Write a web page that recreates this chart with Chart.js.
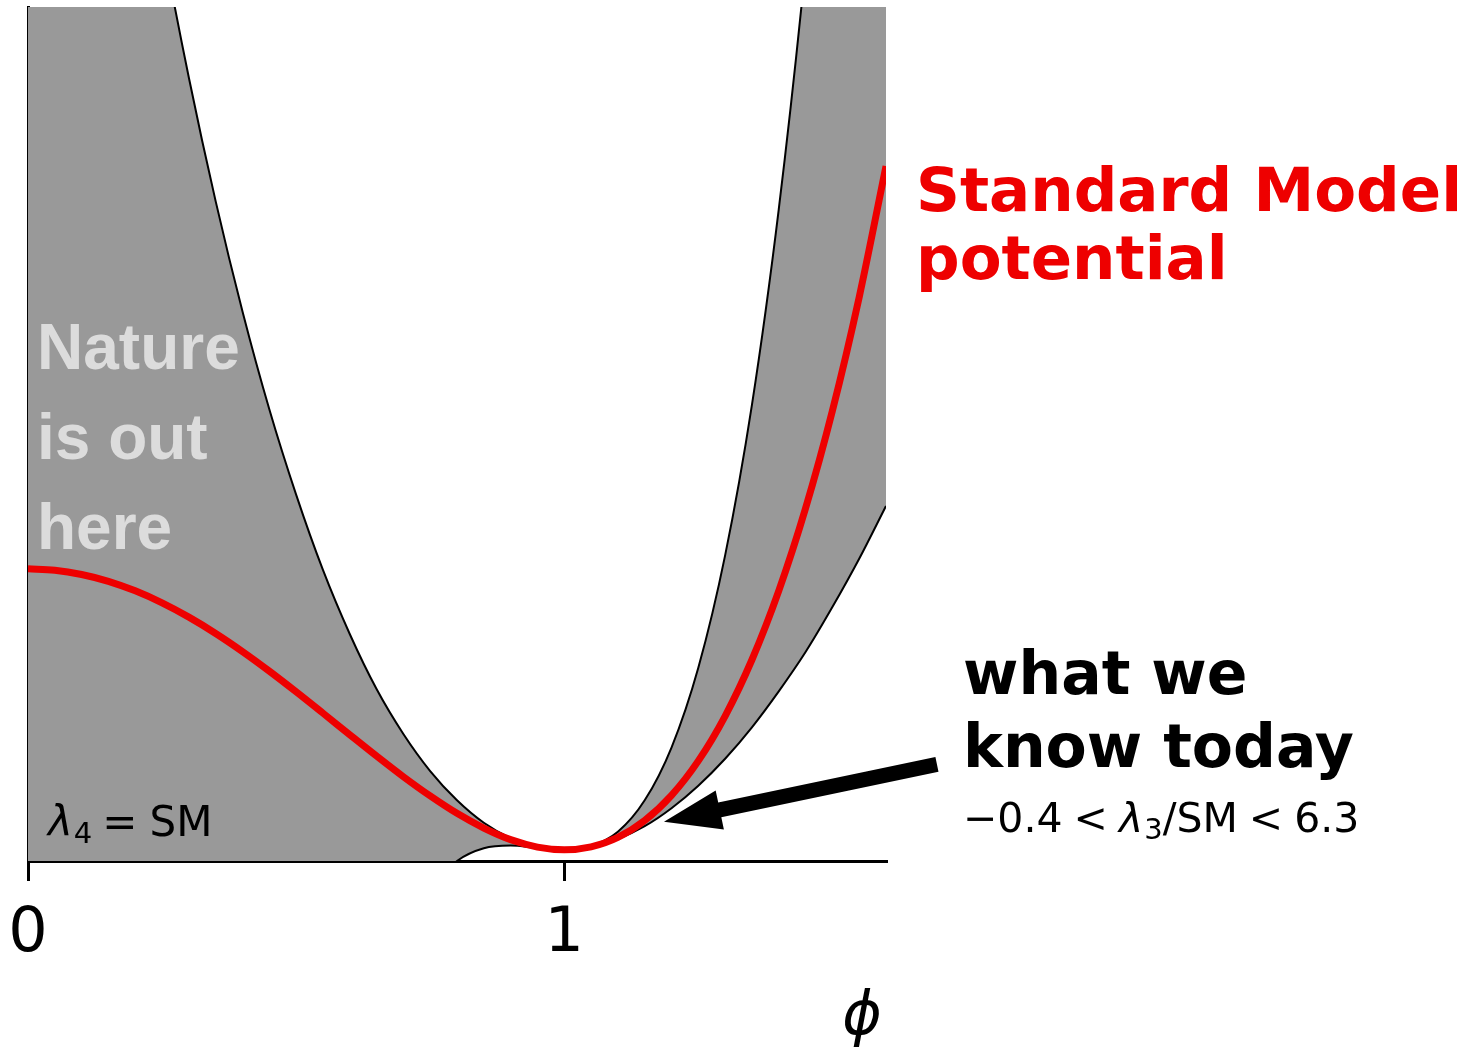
<!DOCTYPE html>
<html>
<head>
<meta charset="utf-8">
<script src="https://cdn.jsdelivr.net/npm/chart.js@4/dist/chart.umd.min.js"></script>
<style>
  html, body { margin: 0; padding: 0; background: #fff; }
  #wrap { width: 1468px; height: 1047px; position: relative; }
</style>
</head>
<body>
<div id="wrap"><canvas id="c"></canvas></div>
<script>
// Field value phi (in units of the vacuum expectation value)
const phi = [0.00, 0.05, 0.10, 0.15, 0.20, 0.25, 0.30, 0.35, 0.40, 0.45, 0.50,
             0.55, 0.60, 0.65, 0.70, 0.75, 0.80, 0.85, 0.90, 0.95, 1.00,
             1.05, 1.10, 1.15, 1.20, 1.25, 1.30, 1.35, 1.40, 1.45, 1.50, 1.55, 1.60];

// Standard Model potential
const vSM = [0.2500, 0.2488, 0.2450, 0.2389, 0.2304, 0.2197, 0.2070, 0.1925, 0.1764, 0.1590, 0.1406,
             0.1216, 0.1024, 0.0834, 0.0650, 0.0479, 0.0324, 0.0193, 0.0090, 0.0024, 0.0000,
             0.0026, 0.0110, 0.0260, 0.0484, 0.0791, 0.1190, 0.1691, 0.2304, 0.3039, 0.3906, 0.4918, 0.6084];

// Potential at lambda3/SM = -0.4
const vLow = [1.650, 1.449, 1.266, 1.099, 0.947, 0.810, 0.687, 0.577, 0.479, 0.392, 0.316,
              0.249, 0.192, 0.143, 0.103, 0.070, 0.044, 0.024, 0.0104, 0.0026, 0.000,
              0.0025, 0.0096, 0.021, 0.037, 0.057, 0.081, 0.109, 0.141, 0.176, 0.216, 0.259, 0.306];

// Potential at lambda3/SM = 6.3
const vHigh = [-5.050, -4.295, -3.619, -3.016, -2.483, -2.016, -1.611, -1.263, -0.968, -0.723, -0.522,
               -0.361, -0.237, -0.144, -0.078, -0.035, -0.010, 0.0014, 0.0037, 0.0017, 0.000,
               0.0033, 0.016, 0.044, 0.091, 0.162, 0.262, 0.396, 0.570, 0.787, 1.053, 1.374, 1.753];

const xTicks = [0, 1];

// Arrow from the label towards the lower edge of the band (data coordinates)
const arrowTip = { x: 1.186, y: 0.025 };
const arrowTail = { x: 1.695, y: 0.076 };

const RED = 'rgb(238,0,0)';
const pts = ys => phi.map((x, i) => ({ x, y: ys[i] }));

const annotations = {
  id: 'annotations',
  afterDraw(chart) {
    const ctx = chart.ctx;
    const xs = chart.scales.x, ys = chart.scales.y;
    ctx.save();

    // arrow
    const tx = xs.getPixelForValue(arrowTip.x), ty = ys.getPixelForValue(arrowTip.y);
    const sx = xs.getPixelForValue(arrowTail.x), sy = ys.getPixelForValue(arrowTail.y);
    const len = Math.hypot(sx - tx, sy - ty);
    const ux = (sx - tx) / len, uy = (sy - ty) / len;
    const nx = -uy, ny = ux;
    const headLen = 57, headHalf = 20, shaftHalf = 7.5;
    const bx = tx + ux * headLen, by = ty + uy * headLen;
    ctx.fillStyle = '#000';
    ctx.beginPath();
    ctx.moveTo(tx, ty);
    ctx.lineTo(bx + nx * headHalf, by + ny * headHalf);
    ctx.lineTo(bx + nx * shaftHalf, by + ny * shaftHalf);
    ctx.lineTo(sx + nx * shaftHalf, sy + ny * shaftHalf);
    ctx.lineTo(sx - nx * shaftHalf, sy - ny * shaftHalf);
    ctx.lineTo(bx - nx * shaftHalf, by - ny * shaftHalf);
    ctx.lineTo(bx - nx * headHalf, by - ny * headHalf);
    ctx.closePath();
    ctx.fill();

    ctx.textBaseline = 'alphabetic';
    ctx.textAlign = 'left';

    // Standard Model label
    ctx.fillStyle = RED;
    ctx.font = 'bold 61px "DejaVu Sans"';
    ctx.fillText('Standard Model', 916, 211);
    ctx.fillText('potential', 916, 279);

    // what we know today
    ctx.fillStyle = '#000';
    ctx.font = 'bold 60px "DejaVu Sans"';
    ctx.fillText('what we', 963, 694);
    ctx.fillText('know today', 963, 767);

    // helper for inline math pieces
    const run = (x, y, parts) => {
      for (const p of parts) {
        ctx.font = p.font;
        ctx.fillText(p.t, x, y + (p.dy || 0));
        x += ctx.measureText(p.t).width + (p.gap || 0);
      }
      return x;
    };

    const mSize = 41;
    run(963, 832, [
      { t: '\u22120.4', font: `${mSize}px "DejaVu Sans"`, gap: 11 },
      { t: '<', font: `${mSize}px "DejaVu Sans"`, gap: 11 },
      { t: '\u03bb', font: `italic ${mSize}px "DejaVu Sans"`, gap: 1 },
      { t: '3', font: `${Math.round(mSize * 0.7)}px "DejaVu Sans"`, dy: 7 },
      { t: '/SM', font: `${mSize}px "DejaVu Sans"`, gap: 11 },
      { t: '<', font: `${mSize}px "DejaVu Sans"`, gap: 11 },
      { t: '6.3', font: `${mSize}px "DejaVu Sans"` }
    ]);

    const lSize = 42;
    run(48, 836, [
      { t: '\u03bb', font: `italic ${lSize}px "DejaVu Sans"`, gap: 1 },
      { t: '4', font: `${Math.round(lSize * 0.7)}px "DejaVu Sans"`, dy: 7, gap: 10 },
      { t: '=', font: `${lSize}px "DejaVu Sans"`, gap: 12 },
      { t: 'SM', font: `${lSize}px "DejaVu Sans"` }
    ]);

    // Nature is out here
    ctx.fillStyle = '#dcdcdc';
    ctx.font = 'bold 64px "Liberation Sans"';
    ctx.fillText('Nature', 37, 369);
    ctx.fillText('is out', 37, 459);
    ctx.fillText('here', 37, 549);

    // axis label
    ctx.fillStyle = '#000';
    ctx.font = 'italic 60px "DejaVu Sans"';
    ctx.textAlign = 'center';
    ctx.fillText('\u03d5', 862, 1034);

    ctx.restore();
  }
};

new Chart(document.getElementById('c'), {
  type: 'line',
  data: {
    datasets: [
      {
        label: 'SM',
        data: pts(vSM),
        borderColor: RED,
        borderWidth: 7,
        pointRadius: 0,
        cubicInterpolationMode: 'monotone',
        fill: false,
        order: 0
      },
      {
        label: 'lambda3/SM = -0.4',
        data: pts(vLow),
        borderColor: '#000',
        borderWidth: 2,
        pointRadius: 0,
        cubicInterpolationMode: 'monotone',
        fill: false,
        order: 2
      },
      {
        label: 'lambda3/SM = 6.3',
        data: pts(vHigh),
        borderColor: '#000',
        borderWidth: 2,
        backgroundColor: '#999999',
        pointRadius: 0,
        cubicInterpolationMode: 'monotone',
        fill: { target: 1 },
        order: 1
      }
    ]
  },
  options: {
    responsive: true,
    maintainAspectRatio: false,
    animation: false,
    events: [],
    layout: { padding: { top: 7, right: 582, bottom: 0, left: 0 } },
    plugins: {
      legend: { display: false },
      tooltip: { enabled: false },
      filler: { drawTime: 'beforeDatasetsDraw' }
    },
    scales: {
      x: {
        type: 'linear',
        min: 0,
        max: 1.6,
        afterBuildTicks: s => { s.ticks = xTicks.map(v => ({ value: v })); },
        afterFit: s => { s.height = 186; s.paddingLeft = 0; s.paddingRight = 0; },
        grid: { drawOnChartArea: false, drawTicks: true, tickLength: 20, lineWidth: 3, color: '#000' },
        border: { display: true, width: 3, color: '#000' },
        ticks: {
          font: { family: 'DejaVu Sans', size: 62 },
          color: '#000',
          padding: 17,
          maxRotation: 0,
          callback: v => String(v)
        }
      },
      y: {
        type: 'linear',
        min: -0.01,
        max: 0.75,
        afterFit: s => { s.width = 28; s.paddingTop = 0; s.paddingBottom = 0; },
        grid: { display: false, drawTicks: false },
        border: { display: true, width: 3, color: '#000' },
        ticks: { display: false }
      }
    }
  },
  plugins: [annotations]
});
</script>
</body>
</html>
